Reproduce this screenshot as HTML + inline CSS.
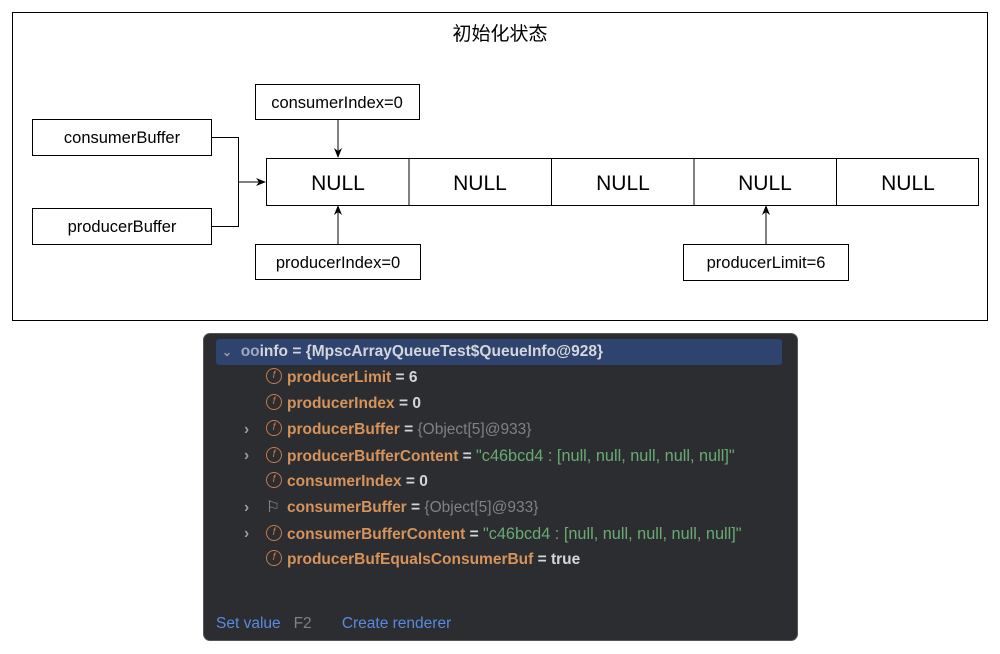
<!DOCTYPE html>
<html><head><meta charset="utf-8"><style>
body{margin:0;width:1000px;height:654px;background:#fff;position:relative;font-family:"Liberation Sans","Noto Sans CJK SC",sans-serif;overflow:hidden}
.a{position:absolute}
.panel{position:absolute;left:203px;top:333px;width:593px;height:306px;background:#2b2d30;border-radius:7px;border:1px solid #555}
.row{position:absolute;left:0;height:26px;line-height:26px;font-size:15.5px;font-weight:bold;color:#d4d6da;white-space:nowrap}
.f{display:inline-block;width:16px;height:16px;border:1.5px solid #c77a4c;border-radius:50%;box-sizing:border-box;color:#c77a4c;font-size:10px;line-height:13px;text-align:center;vertical-align:middle;margin-top:-3px;margin-right:5px;font-style:italic;font-weight:normal}
.n{color:#d6935b}
.g{color:#7f8186;font-weight:normal}
.s{color:#6aab73;font-weight:normal;font-size:16.3px}
</style></head><body>
<svg class="a" style="left:0;top:0" width="1000" height="330">
<defs><marker id="ar" markerWidth="10" markerHeight="10" refX="9" refY="5" orient="auto" markerUnits="userSpaceOnUse"><path d="M0,1 L10,5 L0,9 L3,5z" fill="#000"/></marker></defs>
<g fill="#fff" stroke="#000" stroke-width="1">
<rect x="12.5" y="12.5" width="975" height="308"/>
<rect x="32.5" y="119.5" width="179" height="36"/>
<rect x="32.5" y="208.5" width="179" height="36"/>
<rect x="255.5" y="84.5" width="164" height="35"/>
<rect x="255.5" y="244.5" width="165" height="35"/>
<rect x="683.5" y="244.5" width="165" height="36"/>
<rect x="266.5" y="158.5" width="712" height="47"/>
</g>
<g stroke="#000" stroke-width="1" fill="none">
<line x1="409" y1="158" x2="409" y2="205"/><line x1="551.5" y1="158" x2="551.5" y2="205"/><line x1="694" y1="158" x2="694" y2="205"/><line x1="836.5" y1="158" x2="836.5" y2="205"/>
<path d="M211 137.5 H238.5 V226.5 H211"/>
<line x1="238" y1="182" x2="265" y2="182" marker-end="url(#ar)"/>
<line x1="338" y1="120" x2="338" y2="157" marker-end="url(#ar)"/>
<line x1="338" y1="244" x2="338" y2="206" marker-end="url(#ar)"/>
<line x1="766" y1="244" x2="766" y2="206" marker-end="url(#ar)"/>
</g>
<g font-family="Liberation Sans,sans-serif" font-size="16.5" text-anchor="middle" fill="#000">
<text x="500" y="40" font-family="Liberation Sans,Noto Sans CJK SC,sans-serif" font-size="19">初始化状态</text>
<text x="122" y="143">consumerBuffer</text>
<text x="122" y="232">producerBuffer</text>
<text x="337" y="108">consumerIndex=0</text>
<text x="338" y="268">producerIndex=0</text>
<text x="766" y="268">producerLimit=6</text>
<g font-size="21"><text x="338" y="190">NULL</text><text x="480" y="190">NULL</text><text x="623" y="190">NULL</text><text x="765" y="190">NULL</text><text x="908" y="190">NULL</text></g>
</g>
</svg>
<div class="panel">
<div class="a" style="left:12px;top:5px;width:566px;height:26px;background:#2e436e;border-radius:3px"></div>
<div class="row" style="top:5px;left:18px"><span style="color:#9a9ca0;font-size:12px">⌄</span>&nbsp;&nbsp;<span style="color:#a0a8c0">oo</span>info = {MpscArrayQueueTest$QueueInfo@928}</div>
<div class="row" style="top:31px;left:62px"><span class="f">f</span><span class="n">producerLimit</span> = 6</div>
<div class="row" style="top:57px;left:62px"><span class="f">f</span><span class="n">producerIndex</span> = 0</div>
<div class="row" style="top:83px;left:62px"><span class="f">f</span><span class="n">producerBuffer</span> = <span class="g">{Object[5]@933}</span></div>
<div class="row" style="top:109px;left:62px"><span class="f">f</span><span class="n">producerBufferContent</span> = <span class="s">"c46bcd4 : [null, null, null, null, null]"</span></div>
<div class="row" style="top:135px;left:62px"><span class="f">f</span><span class="n">consumerIndex</span> = 0</div>
<div class="row" style="top:161px;left:62px"><span style="display:inline-block;width:16px;color:#9a9ca0;margin-right:5px;font-weight:normal">⚐</span><span class="n">consumerBuffer</span> = <span class="g">{Object[5]@933}</span></div>
<div class="row" style="top:187px;left:62px"><span class="f">f</span><span class="n">consumerBufferContent</span> = <span class="s">"c46bcd4 : [null, null, null, null, null]"</span></div>
<div class="row" style="top:213px;left:62px"><span class="f">f</span><span class="n">producerBufEqualsConsumerBuf</span> = true</div>
<div class="row" style="top:83px;left:40px;color:#9a9ca0">›</div>
<div class="row" style="top:109px;left:40px;color:#9a9ca0">›</div>
<div class="row" style="top:161px;left:40px;color:#9a9ca0">›</div>
<div class="row" style="top:187px;left:40px;color:#9a9ca0">›</div>
<div class="row" style="top:277px;left:12px;font-weight:normal;font-size:15.5px"><span style="color:#5a8ae0">Set value</span>&nbsp;&nbsp;&nbsp;<span class="g">F2</span>&nbsp;&nbsp;&nbsp;&nbsp;&nbsp;&nbsp;&nbsp;<span style="color:#5a8ae0">Create renderer</span></div>
</div>
</body></html>
